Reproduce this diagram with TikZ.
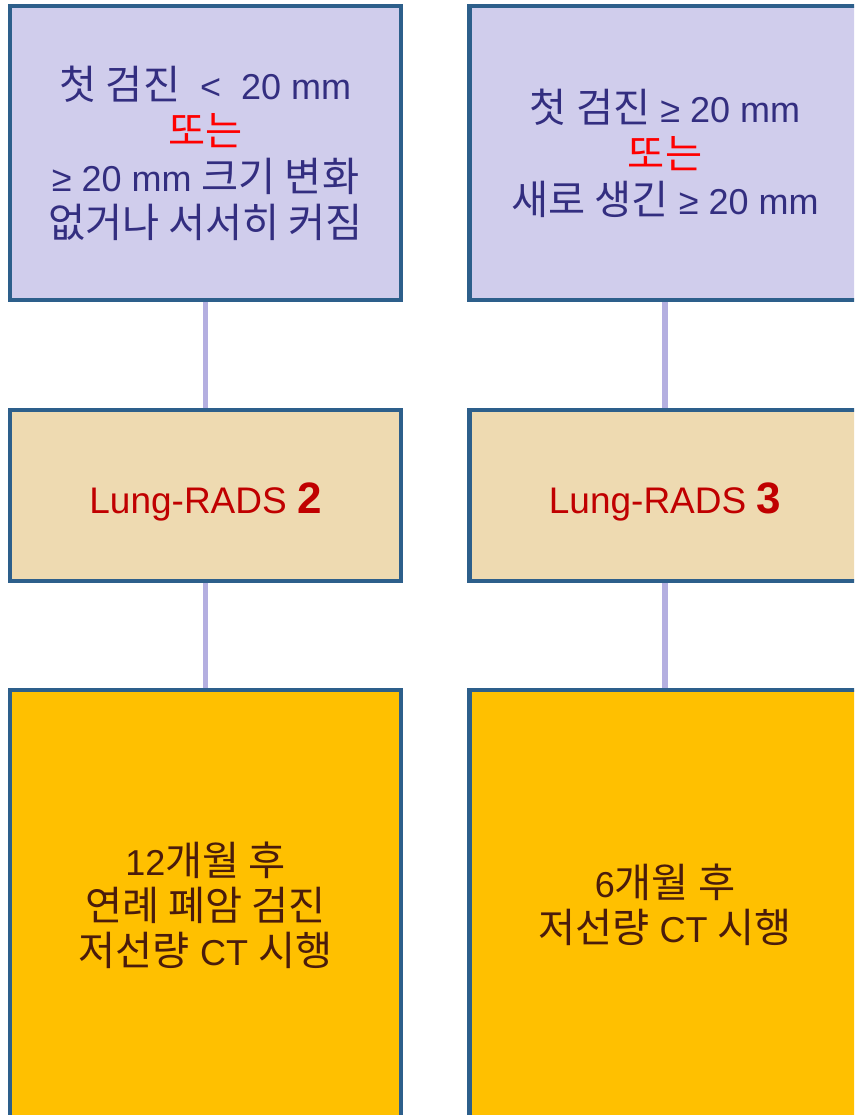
\documentclass[tikz,border=0pt]{standalone}
\usepackage{fontspec}
\setmainfont{Liberation Sans}
\newfontfamily\kr[Scale=1.12]{Noto Sans CJK KR}
\usetikzlibrary{backgrounds}
\definecolor{bordc}{HTML}{2D5F8B}
\definecolor{lavfill}{HTML}{D0CDEC}
\definecolor{tanfill}{HTML}{EEDAB1}
\definecolor{goldfill}{HTML}{FFC000}
\definecolor{connc}{HTML}{B4AFE0}
\definecolor{navytxt}{HTML}{332E80}
\definecolor{redtxt}{HTML}{C00000}
\definecolor{browntxt}{HTML}{4A1C0C}
\tikzset{
  box/.style={draw=bordc, line width=4.5pt, rectangle, inner sep=0pt,
    minimum width=391pt, align=center},
  topbox/.style={box, fill=lavfill, minimum height=294pt, text=navytxt,
    font=\fontsize{36}{46}\selectfont},
  midbox/.style={box, fill=tanfill, minimum height=171pt, text=redtxt,
    font=\fontsize{37}{46}\selectfont, text height=35pt, text depth=0pt},
  botbox/.style={box, fill=goldfill, minimum height=430pt, text=browntxt,
    font=\fontsize{36}{45}\selectfont},
  conn/.style={draw=connc, line width=5.5pt}
}
\begin{document}
\begin{tikzpicture}[x=1pt,y=-1pt]
\useasboundingbox (0,0) rectangle (854,1115);
\clip (0,0) rectangle (854,1115);
\node[topbox] (tl) at (205.5,153) {{\kr 첫 검진}\ \ <\ \ 20 mm\\{\color{red}\kr 또는}\\≥ 20 mm {\kr 크기 변화}\\{\kr 없거나 서서히 커짐}};
\node[topbox] (tr) at (665,153) {{\kr 첫 검진} ≥ 20 mm\\{\color{red}\kr 또는}\\{\kr 새로 생긴} ≥ 20 mm};
\node[midbox] (ml) at (205.5,495.5) {Lung-RADS {\fontsize{44}{44}\selectfont\bfseries 2}};
\node[midbox] (mr) at (665,495.5) {Lung-RADS {\fontsize{44}{44}\selectfont\bfseries 3}};
\node[botbox] (bl) at (205.5,905) {12{\kr 개월 후}\\{\kr 연례 폐암 검진}\\{\kr 저선량} CT {\kr 시행}};
\node[botbox] (br) at (665,905) {6{\kr 개월 후}\\{\kr 저선량} CT {\kr 시행}};
\begin{scope}[on background layer]
\draw[conn] (tl.south) -- (ml.north);
\draw[conn] (ml.south) -- (bl.north);
\draw[conn] (tr.south) -- (mr.north);
\draw[conn] (mr.south) -- (br.north);
\end{scope}
\end{tikzpicture}
\end{document}
